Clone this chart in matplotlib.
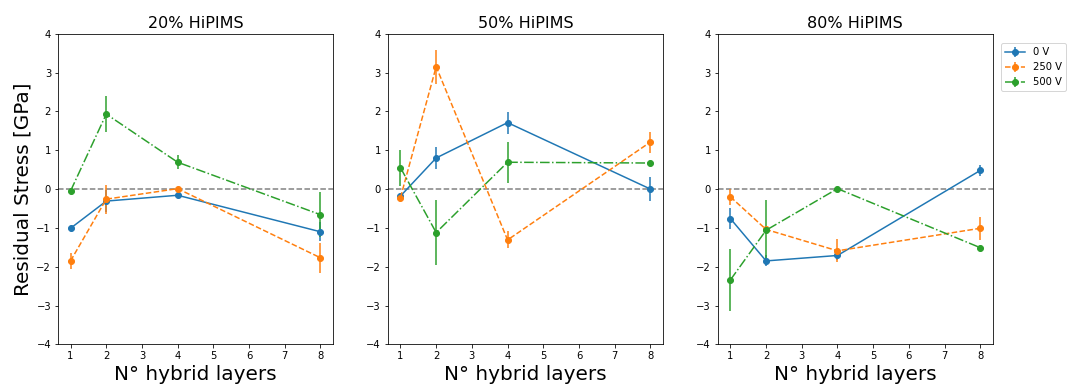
import numpy as np
import matplotlib.pyplot as plt

# Number of hybrid layers
layers = [1, 2, 4, 8]
panels = ['20% HiPIMS', '50% HiPIMS', '80% HiPIMS']
bias = ['0 V', '250 V', '500 V']

# Residual stress [GPa], one list per panel (20%, 50%, 80%)
stress_0V = [[-1.01, -0.31, -0.16, -1.10],
             [-0.18, 0.80, 1.71, 0.00],
             [-0.76, -1.85, -1.71, 0.48]]
stress_250V = [[-1.85, -0.26, 0.01, -1.77],
               [-0.22, 3.15, -1.31, 1.21],
               [-0.20, -1.04, -1.59, -1.01]]
stress_500V = [[-0.05, 1.93, 0.69, -0.66],
               [0.55, -1.12, 0.69, 0.67],
               [-2.34, -1.06, 0.01, -1.51]]

# Error bars [GPa]
err_0V = [[0.05, 0.28, 0.06, 0.25],
          [0.05, 0.29, 0.28, 0.30],
          [0.28, 0.14, 0.12, 0.15]]
err_250V = [[0.20, 0.37, 0.05, 0.38],
            [0.05, 0.44, 0.22, 0.27],
            [0.21, 0.10, 0.30, 0.30]]
err_500V = [[0.05, 0.46, 0.18, 0.58],
            [0.46, 0.84, 0.53, 0.05],
            [0.80, 0.78, 0.05, 0.05]]

stresses = [stress_0V, stress_250V, stress_500V]
errors = [err_0V, err_250V, err_500V]
colors = ['tab:blue', 'tab:orange', 'tab:green']
styles = ['-', '--', '-.']

fig, axs = plt.subplots(1, 3, figsize=(1071 / 72, 387 / 72), dpi=72)
fig.subplots_adjust(left=0.0542, right=0.927, bottom=0.110, top=0.913, wspace=0.2)

for i, ax in enumerate(axs):
    ax.axhline(0, color='gray', linestyle='--', zorder=0)
    for j in range(3):
        ax.errorbar(layers, stresses[j][i], yerr=errors[j][i], fmt='o',
                    linestyle=styles[j], color=colors[j], label=bias[j])
    ax.set_ylim(-4, 4)
    ax.set_xlim(0.65, 8.35)
    ax.set_title(panels[i], fontsize=16)
    ax.set_xlabel('N° hybrid layers', fontsize=20)

axs[0].set_ylabel('Residual Stress [GPa]', fontsize=20)
axs[2].legend(loc='upper left', bbox_to_anchor=(1.01, 0.985))

plt.savefig('out.png', dpi=72)
